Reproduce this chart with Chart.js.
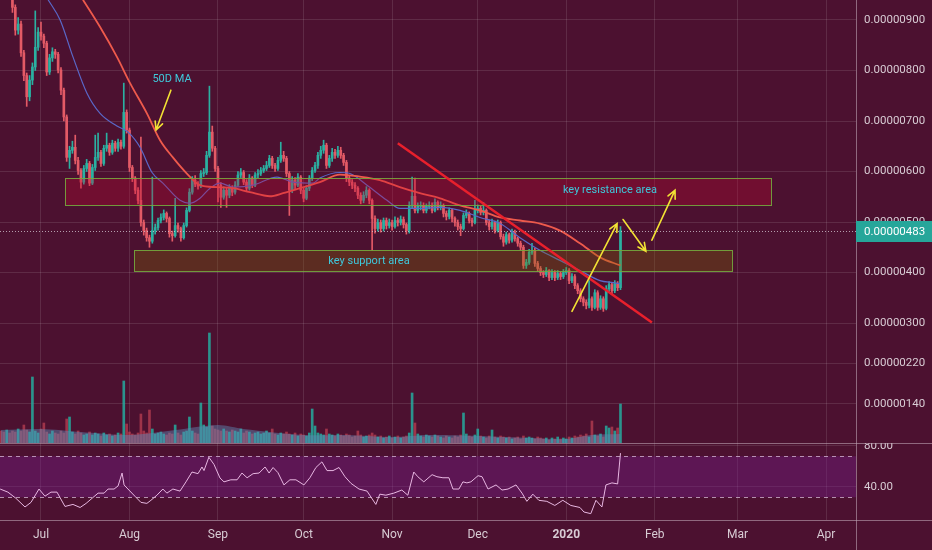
<!DOCTYPE html>
<html>
<head>
<meta charset="utf-8">
<script src="https://cdn.jsdelivr.net/npm/chart.js@4.4.1/dist/chart.umd.min.js"></script>
<style>
  html, body { margin: 0; padding: 0; background: #4c1130; }
  #wrap { position: relative; width: 932px; height: 550px; overflow: hidden; }
  canvas { position: absolute; left: 0; }
  #price { top: 0; }
  #rsi { top: 443px; }
</style>
</head>
<body>
<div id="wrap">
  <canvas id="price" width="932" height="443" style="width:932px;height:443px"></canvas>
  <canvas id="rsi" width="932" height="107" style="width:932px;height:107px"></canvas>
</div>
<script>
// prices are in units of 1e-8 (483 -> 0.00000483), days count from 1 Jul 2019
const firstDay = -14;
const open0 = 1010;
const closes = [
  1000,985,995,960,925,880,892,835,790,748,
  781,807,846,876,868,854,797,825,837,832,
  801,761,708,628,642,648,622,602,579,606,
  616,577,608,628,638,616,646,652,638,656,
  646,658,650,717,682,608,587,563,543,499,
  483,469,462,483,489,503,509,517,507,477,
  473,493,487,469,493,523,559,583,575,571,
  596,598,632,678,646,606,573,549,563,553,
  567,559,573,593,598,579,567,587,573,593,
  596,602,606,612,626,612,606,622,632,626,
  596,563,583,573,589,563,547,567,587,602,
  612,632,642,652,612,626,638,632,642,632,
  618,587,579,573,567,553,543,553,563,543,
  507,487,499,487,503,493,499,491,503,499,
  505,495,483,533,551,523,531,533,523,531,
  533,523,539,529,533,517,511,523,507,499,
  491,487,513,517,503,499,523,527,519,523,
  499,491,499,483,499,471,460,475,464,479,
  467,458,450,414,420,440,444,418,408,400,
  396,404,390,400,390,398,392,400,404,384,
  392,374,364,348,341,335,348,331,360,331,
  348,329,368,376,364,378,370,483
];
const highs = [
  1020,1005,1005,1000,965,930,905,898,840,795,
  790,815,918,885,896,872,858,832,845,842,
  836,806,765,712,650,660,672,628,606,612,
  624,620,614,672,676,642,652,676,656,662,
  660,664,662,775,722,686,612,590,568,668,
  504,488,474,589,496,508,516,524,520,510,
  482,547,498,490,498,528,566,590,592,580,
  602,606,640,769,690,650,610,578,570,568,
  574,572,580,600,606,602,584,594,590,598,
  604,608,612,620,632,630,616,628,658,640,
  630,600,590,588,596,592,568,572,592,608,
  618,638,650,662,656,632,646,644,650,648,
  636,622,592,584,578,570,558,560,570,566,
  546,512,506,504,508,508,506,504,510,508,
  512,510,498,540,589,587,538,540,538,536,
  540,538,546,542,540,536,522,528,526,510,
  504,496,518,524,520,508,543,534,532,539,
  526,504,506,502,504,502,476,480,478,486,
  484,470,462,454,426,446,458,448,422,412,
  404,410,406,406,404,404,402,406,410,408,
  398,396,378,368,352,346,384,352,366,364,
  354,352,374,382,380,384,382,491
];
const lows = [
  990,975,980,950,915,870,872,828,780,729,
  740,772,800,840,860,845,790,792,818,824,
  795,752,700,620,606,636,615,594,567,575,
  600,572,574,602,622,610,612,640,632,634,
  640,640,644,646,676,600,580,556,536,492,
  474,462,450,458,476,484,498,504,500,470,
  462,470,480,462,466,490,520,555,570,565,
  568,590,594,628,640,600,540,529,545,529,
  548,552,555,570,588,574,560,563,568,570,
  588,592,598,602,608,606,600,602,618,620,
  590,513,558,566,570,556,540,544,562,582,
  598,606,626,636,606,608,620,626,628,626,
  612,580,572,566,560,546,536,538,548,536,
  444,478,482,480,482,486,488,484,488,492,
  494,488,476,478,528,518,518,524,518,518,
  526,518,520,524,524,510,504,506,500,492,
  484,473,484,508,498,492,496,518,514,514,
  494,484,486,478,480,466,452,456,458,460,
  462,452,444,408,408,416,436,412,402,394,
  390,392,384,386,384,386,386,388,396,378,
  380,368,358,342,334,328,330,325,328,325,
  327,323,326,362,358,360,364,366
];
const volumes = [
  12,11,13,10,12,11,14,12,18,13,
  11,66,12,10,14,20,11,9,12,10,
  9,12,10,24,26,11,9,12,10,8,
  9,11,8,10,9,7,10,8,9,7,
  8,10,9,62,19,11,9,8,10,29,
  12,10,33,14,9,10,11,9,8,10,
  9,18,10,8,11,12,26,12,10,9,
  40,18,16,110,17,14,13,12,14,12,
  11,13,12,11,14,10,12,11,9,10,
  11,9,10,12,10,14,9,8,10,9,
  11,9,8,10,7,9,8,7,10,34,
  17,10,9,8,14,9,8,7,9,8,
  7,9,8,6,7,12,8,6,7,8,
  10,8,6,7,5,6,7,5,6,7,
  5,6,7,10,50,20,9,7,6,8,
  7,6,8,7,6,5,7,6,5,7,
  6,8,30,9,7,6,8,14,7,6,
  5,7,13,6,5,7,6,5,6,4,
  5,6,4,7,5,6,5,4,6,5,
  4,5,3,5,4,6,4,5,4,6,
  5,7,6,8,7,9,6,22,8,7,
  9,6,17,15,16,12,15,39
];
const volMaDays = [-14,0,14,31,47,62,71,92,107,123,136,153,172,184,193,203];
const volMa =     [13,14,11,8,13,18,14,8,8,6,8,7,5,4,8,9];

const ma20Days = [2.5,6.7,11.2,16.1,20.7,26.6,30.5,34.7,38.9,42.7,48.7,52.2,55.7,59.2,62.7,67.3,74.3,82.7,88.3,95.3,
                  97.7,104.7,108.2,114.2,121.2,125.7,132.7,139.8,146.8,153.8,160.8,167.8,174.8,181.8,188.8,195.8,200.4,203];
const ma20 = [940,900,827,755,715,690,678,648,598,577,543,537,547,567,577,569,573,589,579,577,
              587,598,596,573,543,527,527,529,523,509,497,469,444,424,404,384,380,378];
const ma50Days = [14.7,20.7,26.6,31.2,37.1,41.7,46.2,51.1,55.7,61.6,67.3,73.2,80.2,84.8,90.7,97.7,104.7,111.7,118.7,125.7,
                  132.7,139.8,146.8,153.8,160.8,167.8,174.8,181.8,188.8,195.8,203];
const ma50 = [940,886,827,775,715,662,628,596,573,569,567,559,551,557,567,579,594,590,583,569,
              557,547,533,523,509,503,497,483,458,430,414];

const rsiDays = [-14.3,-11.6,-8.8,-5.6,-3.5,-0.7,1.4,3.5,5.6,8.4,11.2,13.7,15.8,17.9,20,22.1,23.5,25.6,27,28.4,
  29.1,30.8,32.9,35,37.1,38.5,40.6,42.7,44.1,46.2,48.7,50.8,52.9,55,56.4,57.1,58.8,60.6,62.7,64.1,
  66.5,68.7,70.4,72.2,74.3,76.4,78.5,79.9,81.3,83,85.1,87.2,89.3,92.1,94.2,96.3,98.4,100.2,102.3,104.4,
  106.5,108.6,111.4,114.2,117.3,118.7,120.8,123.6,126.4,128.5,130.6,132,134.1,137,138.7,140.8,142.9,144.3,146.4,147.8,
  149.2,150.6,153.1,154.5,156.6,159.4,161.5,163.6,166.4,168.5,170.2,172.3,174.4,177.2,180,182.8,185.6,188.8,190.2,192.6,
  194.4,196.5,197.9,200,202,203];
const rsi = [38,35,29,20.5,25,38,31,35,35,21,23,20,24,29,34,34,38,38,41,53.6,
  42,37,31,25,24,27,32,38,34,38,36,45,54.6,53,59.5,56,69,62,48.8,45,
  47,47,53.6,49,53,53.6,59.5,53.6,59,54,42,47,47,42,49,59,64.5,56,56,59,
  50,43.5,38,36,23,33,32,34,37,32,54.6,50,45,52,50,49,49,38,38,45,
  44,45,51,50,38,42,37,38,42,34,26,33,27,26,22,27,22,20,15.6,14,
  27,20.5,42,44,43,73];

const monthDays = [0,31,62,92,123,153,184,215,244,275];
const monthLabels = ['Jul','Aug','Sep','Oct','Nov','Dec','2020','Feb','Mar','Apr'];
const priceTicks = [900,800,700,600,500,400,300,220,140];
const rsiTicks = [80,40];
const rsiBands = [70,30];

// drawings: [dayFrom, dayTo, priceLow, priceHigh] / [day0, price0, day1, price1]
const resistanceZone = [8.4, 255.7, 533, 587];
const supportZone = [32.6, 242.0, 402, 444];
const trendLine = [125.0, 656, 214.0, 301];
const arrows = [
  [45.5, 761, 40.3, 682],
  [186.0, 323, 201.8, 497],
  [203.9, 505, 211.9, 442],
  [214.0, 464, 222.1, 563]
];
const notes = ['50D MA', 'key resistance area', 'key support area'];
const notePos = [[45.9, 782], [199.3, 563], [114.9, 422]];

const X_MIN = -14.36, X_MAX = 285.5;
const GRID = 'rgba(255,255,255,0.11)';
const AXIS = 'rgba(190,165,180,0.6)';
const TXT = '#d8ccd4';
const FONT = 'Roboto';
const UP = '#2bb0a1', DOWN = '#e35a66';

const days = closes.map((c, i) => firstDay + i);
const opens = closes.map((c, i) => i ? closes[i - 1] : open0);
const candleColor = closes.map((c, i) => c >= opens[i] ? UP : DOWN);
const volColor = closes.map((c, i) => c >= opens[i] ? 'rgba(38,170,158,0.85)' : 'rgba(226,80,95,0.55)');
const fmt = v => (v / 1e8).toFixed(8);
const lastPrice = closes[closes.length - 1];

// keep chart areas flush with the canvas edges
const noPad = s => { s.paddingTop = 0; s.paddingBottom = 0; s.paddingLeft = 0; s.paddingRight = 0; };

function drawArrow(ctx, x0, y0, x1, y1) {
  const ang = Math.atan2(y1 - y0, x1 - x0), L = 9;
  ctx.beginPath();
  ctx.moveTo(x0, y0); ctx.lineTo(x1, y1);
  ctx.moveTo(x1 - L * Math.cos(ang - 0.45), y1 - L * Math.sin(ang - 0.45));
  ctx.lineTo(x1, y1);
  ctx.lineTo(x1 - L * Math.cos(ang + 0.45), y1 - L * Math.sin(ang + 0.45));
  ctx.stroke();
}

const drawings = {
  id: 'drawings',
  afterDatasetsDraw(chart) {
    const { ctx, chartArea: a, scales: { x, y } } = chart;
    ctx.save();
    ctx.beginPath(); ctx.rect(a.left, a.top, a.right - a.left, a.bottom - a.top); ctx.clip();

    const zone = (z, fill) => {
      const x0 = Math.round(x.getPixelForValue(z[0])), x1 = Math.round(x.getPixelForValue(z[1]));
      const y0 = Math.round(y.getPixelForValue(z[3])), y1 = Math.round(y.getPixelForValue(z[2]));
      ctx.fillStyle = fill;
      ctx.fillRect(x0, y0, x1 - x0, y1 - y0);
      ctx.strokeStyle = 'rgba(118,168,62,0.9)';
      ctx.lineWidth = 1;
      ctx.strokeRect(x0 + 0.5, y0 + 0.5, x1 - x0, y1 - y0);
    };
    zone(resistanceZone, 'rgba(200,10,50,0.3)');
    zone(supportZone, 'rgba(130,110,0,0.3)');

    // last price dotted line
    const py = Math.round(y.getPixelForValue(lastPrice)) + 0.5;
    ctx.setLineDash([1, 2]);
    ctx.strokeStyle = 'rgba(215,205,215,0.75)';
    ctx.lineWidth = 1;
    ctx.beginPath(); ctx.moveTo(a.left, py); ctx.lineTo(a.right, py); ctx.stroke();
    ctx.setLineDash([]);

    // falling trendline
    ctx.strokeStyle = '#e8202c';
    ctx.lineWidth = 2.5;
    ctx.beginPath();
    ctx.moveTo(x.getPixelForValue(trendLine[0]), y.getPixelForValue(trendLine[1]));
    ctx.lineTo(x.getPixelForValue(trendLine[2]), y.getPixelForValue(trendLine[3]));
    ctx.stroke();

    // yellow arrows
    ctx.strokeStyle = '#f2e234';
    ctx.lineWidth = 1.6;
    ctx.lineCap = 'round';
    arrows.forEach(r => drawArrow(ctx,
      x.getPixelForValue(r[0]), y.getPixelForValue(r[1]),
      x.getPixelForValue(r[2]), y.getPixelForValue(r[3])));

    // notes
    ctx.fillStyle = '#3fc8da';
    ctx.font = '11px ' + FONT;
    ctx.textAlign = 'center';
    ctx.textBaseline = 'middle';
    notes.forEach((t, i) => ctx.fillText(t, x.getPixelForValue(notePos[i][0]), y.getPixelForValue(notePos[i][1])));
    ctx.restore();
  },
  afterDraw(chart) {
    const { ctx, chartArea: a, scales: { y } } = chart;
    const py = Math.round(y.getPixelForValue(lastPrice));
    ctx.save();
    ctx.fillStyle = '#26a69a';
    ctx.fillRect(a.right, py - 10, chart.width - a.right, 21);
    ctx.fillStyle = '#ffffff';
    ctx.font = '11.5px ' + FONT;
    ctx.textAlign = 'left';
    ctx.textBaseline = 'middle';
    ctx.fillText(fmt(lastPrice), a.right + 8, py + 1);
    ctx.restore();
  }
};

new Chart(document.getElementById('price'), {
  type: 'bar',
  data: {
    datasets: [
      { type: 'line', data: ma50Days.map((d, i) => ({ x: d, y: ma50[i] })), borderColor: '#ee5a4c', borderWidth: 1.8,
        pointRadius: 0, cubicInterpolationMode: 'monotone', yAxisID: 'y', order: 0 },
      { type: 'line', data: ma20Days.map((d, i) => ({ x: d, y: ma20[i] })), borderColor: '#5a68c8', borderWidth: 1.2,
        pointRadius: 0, cubicInterpolationMode: 'monotone', yAxisID: 'y', order: 1 },
      { data: days.map((d, i) => ({ x: d, y: [opens[i], closes[i]] })), backgroundColor: candleColor,
        barThickness: 2, minBarLength: 1, grouped: false, yAxisID: 'y', order: 2 },
      { data: days.map((d, i) => ({ x: d, y: [lows[i], highs[i]] })), backgroundColor: candleColor,
        barThickness: 1, grouped: false, yAxisID: 'y', order: 3 },
      { type: 'line', data: volMaDays.map((d, i) => ({ x: d, y: volMa[i] })), yAxisID: 'yv', fill: 'origin',
        backgroundColor: 'rgba(95,140,185,0.45)', borderWidth: 0, pointRadius: 0, tension: 0.3, order: 4 },
      { data: days.map((d, i) => ({ x: d, y: volumes[i] })), backgroundColor: volColor,
        barThickness: 2, grouped: false, yAxisID: 'yv', order: 5 }
    ]
  },
  options: {
    responsive: false, animation: false, devicePixelRatio: 1,
    layout: { padding: 0 },
    plugins: { legend: { display: false }, tooltip: { enabled: false } },
    scales: {
      x: {
        type: 'linear', min: X_MIN, max: X_MAX, offset: false,
        afterBuildTicks: s => { s.ticks = monthDays.map(v => ({ value: v })); },
        afterFit: s => { noPad(s); s.height = 0; },
        ticks: { display: false },
        grid: { color: GRID, drawTicks: false, offset: false },
        border: { display: false }
      },
      y: {
        position: 'right', min: 62.4, max: 939.6,
        afterBuildTicks: s => { s.ticks = priceTicks.map(v => ({ value: v })); },
        afterFit: s => { noPad(s); s.width = 76; },
        ticks: { callback: v => fmt(v), color: TXT, font: { family: FONT, size: 11.5 }, padding: 8 },
        grid: { color: GRID, drawTicks: false },
        border: { display: true, color: AXIS }
      },
      yv: { display: false, min: 0, max: 443 }
    }
  },
  plugins: [drawings]
});

const rsiPane = {
  id: 'rsiPane',
  beforeDatasetsDraw(chart) {
    const { ctx, chartArea: a, scales: { y } } = chart;
    const y0 = y.getPixelForValue(rsiBands[0]), y1 = y.getPixelForValue(rsiBands[1]);
    ctx.save();
    ctx.fillStyle = 'rgba(120,30,140,0.4)';
    ctx.fillRect(a.left, y0, a.right - a.left, y1 - y0);
    ctx.strokeStyle = 'rgba(225,200,225,0.7)';
    ctx.lineWidth = 1;
    ctx.setLineDash([4, 4]);
    rsiBands.forEach(v => {
      const yy = Math.round(y.getPixelForValue(v)) + 0.5;
      ctx.beginPath(); ctx.moveTo(a.left, yy); ctx.lineTo(a.right, yy); ctx.stroke();
    });
    ctx.restore();
  },
  afterDraw(chart) {
    const { ctx, chartArea: a } = chart;
    ctx.save();
    ctx.strokeStyle = AXIS;
    ctx.lineWidth = 1;
    ctx.beginPath();
    ctx.moveTo(0, 0.5); ctx.lineTo(chart.width, 0.5);
    ctx.moveTo(0, a.bottom + 0.5); ctx.lineTo(chart.width, a.bottom + 0.5);
    ctx.moveTo(a.right + 0.5, 0); ctx.lineTo(a.right + 0.5, chart.height);
    ctx.stroke();
    ctx.restore();
  }
};

new Chart(document.getElementById('rsi'), {
  type: 'line',
  data: {
    datasets: [{ data: rsiDays.map((d, i) => ({ x: d, y: rsi[i] })), borderColor: '#e8b8e2', borderWidth: 1,
      pointRadius: 0, tension: 0 }]
  },
  options: {
    responsive: false, animation: false, devicePixelRatio: 1,
    layout: { padding: 0 },
    plugins: { legend: { display: false }, tooltip: { enabled: false } },
    scales: {
      x: {
        type: 'linear', min: X_MIN, max: X_MAX,
        afterBuildTicks: s => { s.ticks = monthDays.map(v => ({ value: v })); },
        afterFit: s => { noPad(s); s.height = 30; },
        ticks: {
          callback: v => monthLabels[monthDays.indexOf(v)],
          color: TXT, padding: 8, maxRotation: 0, autoSkip: false,
          font: c => ({ family: FONT, size: 12, weight: c.tick && c.tick.value === 184 ? 'bold' : 'normal' })
        },
        grid: { color: GRID, drawTicks: false },
        border: { display: false }
      },
      y: {
        position: 'right', min: 7.8, max: 82.9,
        afterBuildTicks: s => { s.ticks = rsiTicks.map(v => ({ value: v })); },
        afterFit: s => { noPad(s); s.width = 76; },
        ticks: { callback: v => v.toFixed(2), color: TXT, font: { family: FONT, size: 11.5 }, padding: 8 },
        grid: { color: GRID, drawTicks: false },
        border: { display: false }
      }
    }
  },
  plugins: [rsiPane]
});
</script>
</body>
</html>
